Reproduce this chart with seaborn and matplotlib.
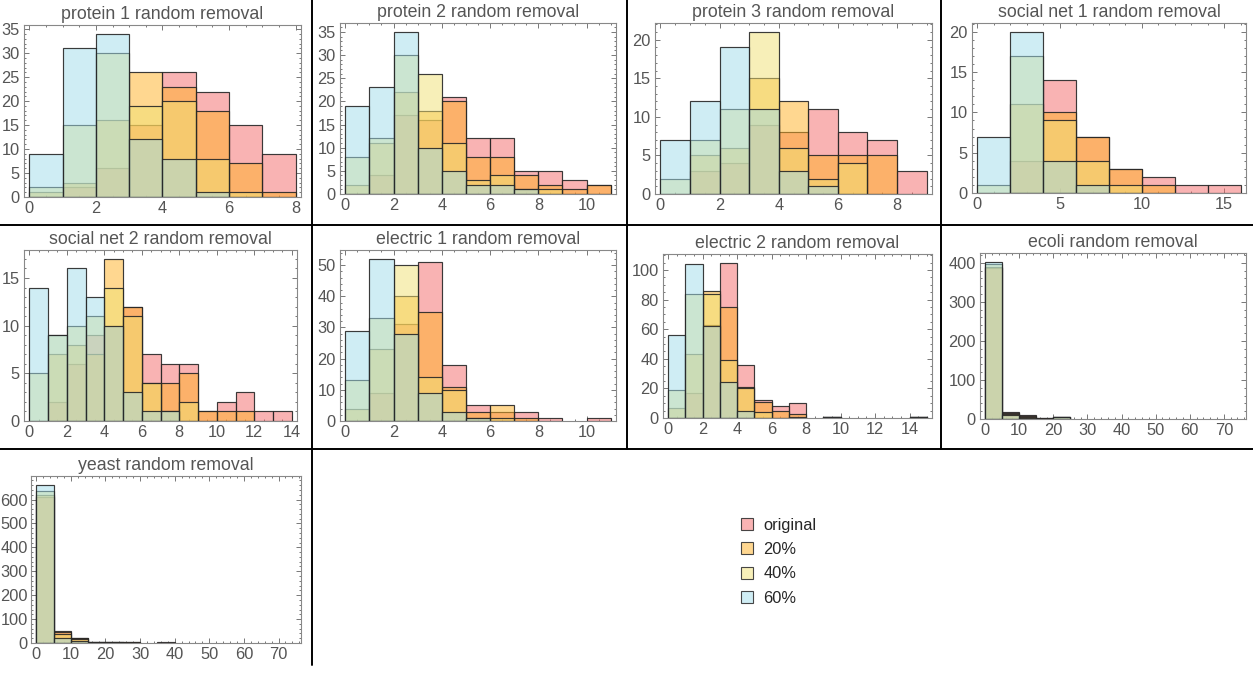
import numpy as np
import pandas as pd
import matplotlib
matplotlib.use("Agg")
import matplotlib.pyplot as plt
from matplotlib.lines import Line2D
from matplotlib.patches import Patch
from matplotlib.ticker import MultipleLocator, AutoMinorLocator
import seaborn as sns

# 数据：每个网络的度分布（原始 / 随机删除 20% / 40% / 60%）
series_names = ['original', '20%', '40%', '60%']

protein1_original = [0, 2, 6, 15, 26, 22, 15, 9]
protein1_20 = [1, 3, 16, 26, 23, 18, 7, 1]
protein1_40 = [2, 15, 30, 19, 20, 8, 1, 0]
protein1_60 = [9, 31, 34, 12, 8, 1, 0, 0]

protein2_original = [0, 4, 17, 16, 21, 12, 12, 5, 5, 3, 2]
protein2_20 = [2, 11, 22, 18, 20, 8, 8, 4, 2, 1, 2]
protein2_40 = [8, 12, 30, 26, 11, 3, 4, 1, 1, 0, 0]
protein2_60 = [19, 23, 35, 10, 5, 2, 2, 1, 0, 0, 0]

protein3_original = [0, 3, 4, 9, 8, 11, 8, 7, 3]
protein3_20 = [0, 5, 6, 15, 12, 5, 5, 5, 0]
protein3_40 = [2, 7, 11, 21, 6, 2, 4, 0, 0]
protein3_60 = [7, 12, 19, 11, 3, 1, 0, 0, 0]

social1_original = [0, 4, 14, 7, 3, 2, 1, 1]
social1_20 = [0, 11, 10, 7, 3, 1, 0, 0]
social1_40 = [1, 17, 9, 4, 1, 0, 0, 0]
social1_60 = [7, 20, 4, 1, 0, 0, 0, 0]

social2_original = [0, 2, 6, 9, 10, 12, 7, 6, 6, 1, 2, 3, 1, 1]
social2_20 = [0, 7, 8, 7, 17, 12, 4, 4, 5, 1, 1, 1, 0, 0]
social2_40 = [5, 9, 10, 11, 14, 11, 4, 1, 2, 0, 0, 0, 0, 0]
social2_60 = [14, 9, 16, 13, 10, 3, 1, 1, 0, 0, 0, 0, 0, 0]

electric1_original = [0, 9, 31, 51, 18, 5, 3, 3, 1, 0, 1]
electric1_20 = [4, 23, 40, 35, 11, 3, 5, 1, 0, 0, 0]
electric1_40 = [13, 33, 50, 14, 10, 1, 1, 0, 0, 0, 0]
electric1_60 = [29, 52, 28, 9, 3, 1, 0, 0, 0, 0, 0]

electric2_original = [0, 17, 63, 105, 36, 12, 8, 10, 0, 1, 0, 0, 0, 0, 1]
electric2_20 = [7, 43, 86, 75, 21, 11, 5, 3, 0, 1, 0, 0, 0, 0, 1]
electric2_40 = [19, 84, 84, 39, 20, 4, 0, 1, 0, 1, 0, 0, 0, 0, 1]
electric2_60 = [56, 104, 62, 24, 5, 0, 0, 0, 0, 1, 0, 0, 0, 0, 1]

ecoli_original = [386, 18, 10, 2, 5, 0, 0, 0, 0, 0, 0, 0, 0, 0, 0]
ecoli_20 = [390, 16, 8, 2, 5, 0, 0, 0, 0, 0, 0, 0, 0, 0, 0]
ecoli_40 = [397, 12, 6, 1, 5, 0, 0, 0, 0, 0, 0, 0, 0, 0, 0]
ecoli_60 = [403, 10, 3, 1, 4, 0, 0, 0, 0, 0, 0, 0, 0, 0, 0]

yeast_original = [610, 52, 22, 4, 3, 3, 0, 3, 0, 0, 0, 0, 0, 0, 0]
yeast_20 = [620, 45, 20, 4, 3, 3, 0, 2, 0, 0, 0, 0, 0, 0, 0]
yeast_40 = [635, 38, 15, 3, 3, 2, 0, 1, 0, 0, 0, 0, 0, 0, 0]
yeast_60 = [662, 22, 10, 2, 1, 0, 0, 0, 0, 0, 0, 0, 0, 0, 0]

# 每个子图：标题、数据、分箱宽度、刻度间隔(x, y)
panels = [
    ('protein 1 random removal', [protein1_original, protein1_20, protein1_40, protein1_60], 1, 2, 5),
    ('protein 2 random removal', [protein2_original, protein2_20, protein2_40, protein2_60], 1, 2, 5),
    ('protein 3 random removal', [protein3_original, protein3_20, protein3_40, protein3_60], 1, 2, 5),
    ('social net 1 random removal', [social1_original, social1_20, social1_40, social1_60], 2, 5, 5),
    ('social net 2 random removal', [social2_original, social2_20, social2_40, social2_60], 1, 2, 5),
    ('electric 1 random removal', [electric1_original, electric1_20, electric1_40, electric1_60], 1, 2, 10),
    ('electric 2 random removal', [electric2_original, electric2_20, electric2_40, electric2_60], 1, 2, 20),
    ('ecoli random removal', [ecoli_original, ecoli_20, ecoli_40, ecoli_60], 5, 10, 100),
    ('yeast random removal', [yeast_original, yeast_20, yeast_40, yeast_60], 5, 10, 100),
]

# 子图位置（像素：左, 右, 上, 下）
boxes = [
    (24, 301, 25, 197), (340, 616, 23, 194), (655, 932, 23, 194), (972, 1246, 23, 193),
    (24, 297, 250, 421), (340, 616, 250, 421), (663, 932, 254, 418), (980, 1246, 253, 419),
    (31, 301, 476, 643),
]

colors = ['#f56969', '#ffb123', '#f1e173', '#a1ddeb']

sns.set_theme(style='ticks')
plt.rcParams['font.family'] = ['Liberation Sans', 'DejaVu Sans']

W, H = 1253, 674
fig = plt.figure(figsize=(W / 100, H / 100), dpi=100)


def minor_n(step):
    return 4 if str(step)[0] == '2' else 5


for (title, series, width, xstep, ystep), (l, r, t, b) in zip(panels, boxes):
    ax = fig.add_axes([l / W, 1 - b / H, (r - l) / W, (b - t) / H])
    nbins = len(series[0])
    lo, hi = 0, nbins * width
    centers = [lo + width * (i + 0.5) for i in range(nbins)]
    for name, counts, c in zip(series_names, series, colors):
        df = pd.DataFrame({'degree': centers, 'count': counts})
        sns.histplot(data=df, x='degree', weights='count', binwidth=width,
                     binrange=(lo, hi), ax=ax, color=c, alpha=0.5,
                     edgecolor=(0.15, 0.15, 0.15, 0.9), linewidth=0.85)
    for p in list(ax.patches):
        if p.get_height() == 0:
            p.remove()
    top = max(max(s) for s in series)
    span = hi - lo
    ax.set_xlim(lo - 0.02 * span, hi + 0.02 * span)
    ax.set_ylim(0, top * 1.055)
    ax.set_xlabel('')
    ax.set_ylabel('')
    ax.set_title(title, fontsize=12.8, color='#555555', pad=4)
    ax.xaxis.set_major_locator(MultipleLocator(xstep))
    ax.yaxis.set_major_locator(MultipleLocator(ystep))
    ax.xaxis.set_minor_locator(AutoMinorLocator(minor_n(xstep)))
    ax.yaxis.set_minor_locator(AutoMinorLocator(minor_n(ystep)))
    ax.tick_params(which='both', direction='in', top=True, right=True,
                   color='#777777', width=0.7)
    ax.tick_params(which='major', length=3.4, labelsize=11.8, labelcolor='#555555', pad=3.2)
    ax.tick_params(which='minor', length=1.7)
    if top > 500:
        ax.tick_params(axis='y', which='major', pad=2.2)
    for s in ax.spines.values():
        s.set_color('#888888')
        s.set_linewidth(0.8)


# 分隔线
def fig_line(x0, y0, x1, y1):
    fig.add_artist(Line2D([x0 / W, x1 / W], [1 - y0 / H, 1 - y1 / H],
                          color='black', linewidth=1.4))


fig_line(0, 225, W, 225)
fig_line(0, 449, W, 449)
fig_line(312, 0, 312, 665)
fig_line(627, 0, 627, 449)
fig_line(941, 0, 941, 449)

# 图例
handles = [Patch(facecolor=(*matplotlib.colors.to_rgb(c), 0.5),
                 edgecolor=(0.2, 0.2, 0.2, 0.9), linewidth=0.8) for c in colors]
fig.legend(handles, series_names, loc='upper left',
           bbox_to_anchor=(741 / W, 1 - 518 / H), frameon=False,
           fontsize=11.8, handlelength=0.75, handleheight=0.75,
           handletextpad=0.6, labelspacing=0.56, borderpad=0, borderaxespad=0)

plt.savefig('out.png', dpi=100)
